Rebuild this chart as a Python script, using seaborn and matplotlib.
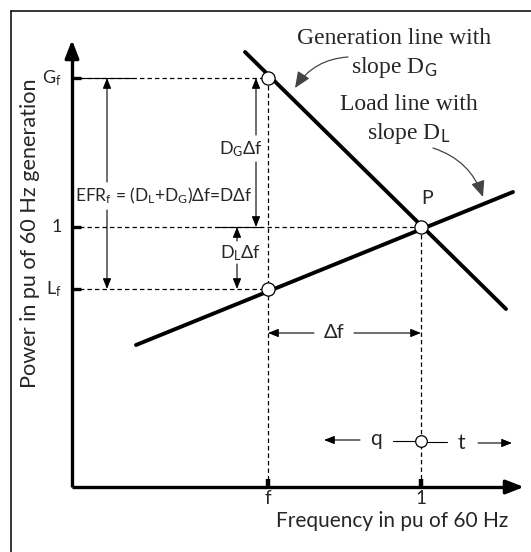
import matplotlib
matplotlib.use("Agg")
import matplotlib.pyplot as plt
import seaborn as sns
import pandas as pd

sns.set_theme(style="white")
plt.rcParams['font.family'] = ['Lato', 'Open Sans', 'DejaVu Sans']
plt.rcParams['mathtext.fontset'] = 'custom'
plt.rcParams['mathtext.rm'] = 'Lato'
plt.rcParams['mathtext.sf'] = 'Lato'
plt.rcParams['mathtext.it'] = 'Lato:italic'

# ---- diagram data (drawing units, y grows downward) ----
level_labels = ['G$_\\mathrm{f}$', '1', 'L$_\\mathrm{f}$']
level_y = [78, 227, 289]
freq_labels = ['f', '1']
freq_x = [268, 421]
axis_origin = [72, 487]
axis_ends = [524, 40]
gen_x = [245, 506]
gen_y = [52, 309]
load_x = [136, 513]
load_y = [345, 192]
pt_x = [268, 268, 421]
pt_y = [78, 289, 227]
state_x = [421]
state_y = [441]

SANS = ['Lato', 'Open Sans', 'DejaVu Sans']
SERIF = ['Liberation Serif', 'DejaVu Serif']

fig = plt.figure(figsize=(5.31, 5.52), dpi=100)
ax = fig.add_axes([0, 0, 1, 1])
ax.set_xlim(0, 531)
ax.set_ylim(552, 0)
ax.axis('off')

# frame
ax.plot([11, 11], [11, 552], color='black', lw=1.1)
ax.plot([11, 531], [11, 11], color='black', lw=1.1)

# axes with arrows
ox, oy = axis_origin
ax.plot([ox, ox], [oy, axis_ends[1] + 10], color='black', lw=2.4, solid_capstyle='butt')
ax.plot([ox, axis_ends[0] - 10], [oy, oy], color='black', lw=2.4, solid_capstyle='butt')
ax.annotate('', xy=(ox, axis_ends[1]), xytext=(ox, axis_ends[1] + 14),
            arrowprops=dict(arrowstyle='-|>,head_length=0.9,head_width=0.35', color='black',
                            lw=2.4, shrinkA=0, shrinkB=0, mutation_scale=12))
ax.annotate('', xy=(axis_ends[0], oy), xytext=(axis_ends[0] - 14, oy),
            arrowprops=dict(arrowstyle='-|>,head_length=0.9,head_width=0.35', color='black',
                            lw=2.4, shrinkA=0, shrinkB=0, mutation_scale=12))

# ticks
for y in level_y:
    ax.plot([ox, ox + 9], [y, y], color='black', lw=2.4, solid_capstyle='butt')
for x in freq_x:
    ax.plot([x, x], [oy - 8, oy], color='black', lw=3.2, solid_capstyle='butt')

# tick labels
for lab, y in zip(level_labels, level_y):
    ax.text(62, y, lab, ha='right', va='center', fontsize=13, family=SANS)
for lab, x in zip(freq_labels, freq_x):
    ax.text(x, 499, lab, ha='center', va='center', fontsize=13.5, family=SANS)

# dashed guide lines
dash = dict(color='black', lw=0.9, ls=(0, (3.5, 2.5)))
ax.plot([ox, pt_x[0]], [level_y[0], level_y[0]], **dash)
ax.plot([ox, pt_x[2]], [level_y[1], level_y[1]], **dash)
ax.plot([ox, pt_x[1]], [level_y[2], level_y[2]], **dash)
ax.plot([freq_x[0], freq_x[0]], [level_y[0], oy], **dash)
ax.plot([freq_x[1], freq_x[1]], [level_y[1], oy], **dash)
ax.plot([ox, 133], [level_y[0], level_y[0]], color='black', lw=0.8)
ax.plot([215, 262], [level_y[1], level_y[1]], color='black', lw=0.8)

# generation and load lines
lines = pd.DataFrame({
    'x': gen_x + load_x,
    'y': gen_y + load_y,
    'line': ['gen'] * 2 + ['load'] * 2,
})
sns.lineplot(data=lines, x='x', y='y', units='line', estimator=None, color='black',
             lw=2.8, ax=ax, legend=False, sort=False)

# operating points
pts = pd.DataFrame({'x': pt_x, 'y': pt_y})
sns.scatterplot(data=pts, x='x', y='y', s=90, color='white', edgecolor='black',
                linewidth=0.9, ax=ax, zorder=5)

# double arrows
def arrow(x0, y0, x1, y1, lw=0.8):
    ax.annotate('', xy=(x1, y1), xytext=(x0, y0),
                arrowprops=dict(arrowstyle='-|>,head_length=0.45,head_width=0.18',
                                color='black', lw=lw, shrinkA=0, shrinkB=0,
                                mutation_scale=14))

# EFR arrow
arrow(107, 182, 107, level_y[0])
arrow(107, 210, 107, level_y[2])
ax.text(164, 196, 'EFR$_\\mathrm{f}$ = (D$_\\mathrm{L}$+D$_\\mathrm{G}$)Δf=DΔf',
        ha='center', va='center', fontsize=12.5, family=SANS)
# DG arrow
arrow(256, 135, 256, level_y[0])
arrow(256, 162, 256, level_y[1])
ax.text(241, 149, 'D$_\\mathrm{G}$Δf', ha='center', va='center', fontsize=13, family=SANS)
# DL arrow
arrow(237, 241, 237, level_y[1])
arrow(237, 264, 237, level_y[2])
ax.text(241, 253, 'D$_\\mathrm{L}$Δf', ha='center', va='center', fontsize=13, family=SANS)
# delta f horizontal
arrow(314, 333, freq_x[0], 333)
arrow(354, 333, freq_x[1], 333)
ax.text(334, 333, 'Δf', ha='center', va='center', fontsize=14.5, family=SANS)

ax.text(427, 198, 'P', ha='center', va='center', fontsize=14, family=SANS)

# q / t direction markers
arrow(360, 440, 324, 440)
ax.plot([393, 415], [441, 441], color='black', lw=0.8)
ax.plot([427, 447], [442, 442], color='black', lw=0.8)
arrow(478, 443, 512, 443)
ax.text(376, 439, 'q', ha='center', va='center', fontsize=15, family=SANS)
ax.text(461, 443, 't', ha='center', va='center', fontsize=15, family=SANS)
sns.scatterplot(x=state_x, y=state_y, s=70, color='white', edgecolor='black',
                linewidth=0.9, ax=ax, zorder=5)

# axis titles
ax.text(30, 233, 'Power in pu of 60 Hz generation', rotation=90, ha='center',
        va='center', fontsize=15.6, family=SANS)
ax.text(392, 521, 'Frequency in pu of 60 Hz', ha='center', va='center',
        fontsize=15, family=SANS)

# serif annotations
ax.text(394, 38, 'Generation line with', ha='center', va='center', fontsize=17, family=SERIF)
ax.text(394, 67, 'slope D$_\\mathrm{G}$', ha='center', va='center', fontsize=17, family=SERIF)
ax.text(409, 105, 'Load line with', ha='center', va='center', fontsize=17, family=SERIF)
ax.text(409, 133, 'slope D$_\\mathrm{L}$', ha='center', va='center', fontsize=17, family=SERIF)

ax.annotate('', xy=(295, 88), xytext=(348, 57),
            arrowprops=dict(arrowstyle='-|>,head_length=0.7,head_width=0.3', color='#444444',
                            lw=0.9, shrinkA=0, shrinkB=0, mutation_scale=14,
                            connectionstyle='arc3,rad=0.25'))
ax.annotate('', xy=(483, 197), xytext=(433, 148),
            arrowprops=dict(arrowstyle='-|>,head_length=0.7,head_width=0.3', color='#444444',
                            lw=0.9, shrinkA=0, shrinkB=0, mutation_scale=14,
                            connectionstyle='arc3,rad=-0.25'))

fig.savefig('out.png', dpi=100)
